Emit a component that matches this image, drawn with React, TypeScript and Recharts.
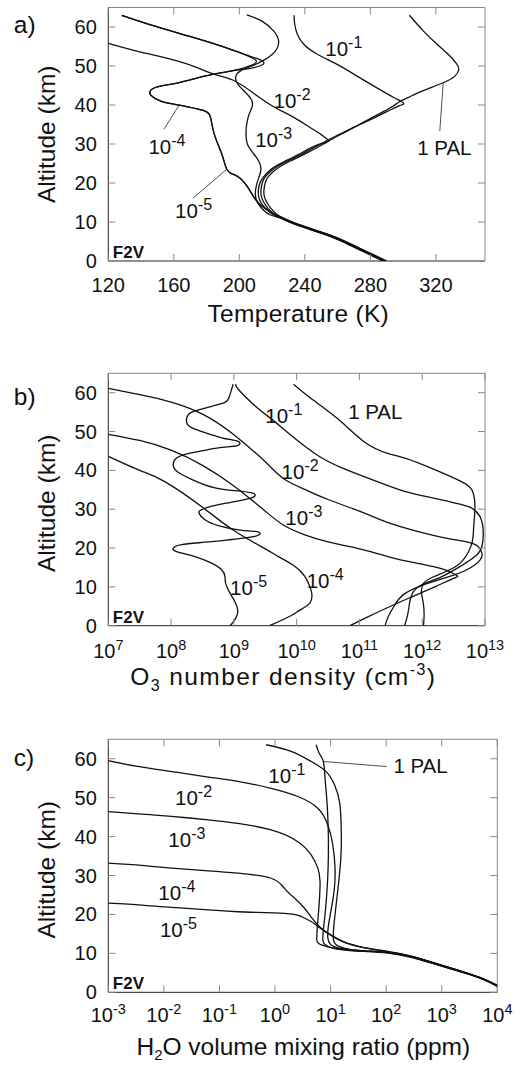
import React from 'react';
import { ScatterChart, Scatter, XAxis, YAxis, ReferenceDot } from 'recharts';

type P = [number, number];

// ---------------- Panel a: Temperature (K) vs altitude (km) ----------------
const tempTicks = [120, 160, 200, 240, 280, 320];
const altTicks = [0, 10, 20, 30, 40, 50, 60];

const tempPAL1: P[] = [
  [303.8, 63.0], [312.3, 59.0], [320.4, 55.7], [327.5, 53.0], [332.6, 50.6], [334.0, 49.1], [331.6, 47.4],
  [324.5, 45.7], [312.3, 43.7], [305, 42.3], [298, 40.9], [293.5, 39.6], [286.5, 38], [278.5, 36.2],
  [271.5, 34.6], [263.5, 32.8], [256, 31.1], [251.5, 30], [242.5, 28], [233, 26], [226, 24.5], [221, 23],
  [217.5, 21.5], [215.8, 20], [215, 18], [215.3, 16.5], [216.8, 15], [219.3, 13.5], [222.8, 12], [227, 11],
  [232.5, 10], [239, 9], [246, 8], [253, 7], [259.5, 6], [265, 5], [270, 4], [275, 3], [280, 2], [285, 1], [290, 0],
];
const temp101: P[] = [
  [233.4, 63], [233.8, 60.7], [235.5, 58.1], [239.5, 55.5], [247.6, 53], [259.7, 50.4], [271.9, 47.4],
  [284, 44.4], [294, 42], [299, 40.9], [300.5, 40.3], [297.5, 39.8], [290, 38.3], [284.8, 37.2], [276.8, 35.6],
  [269.8, 34.3], [261.8, 32.6], [254.3, 31.1], [249.8, 30], [240.7, 28], [231.2, 26], [224.2, 24.5], [219.2, 23],
  [215.7, 21.5], [214, 20], [213.2, 18], [213.5, 16.5], [215, 15], [217.5, 13.5], [221.5, 12], [226.5, 11],
  [232, 10], [238.5, 9], [245.5, 8], [252.5, 7], [259, 6], [264.5, 5], [269.5, 4], [274.5, 3], [279.5, 2], [284.5, 1], [289.5, 0],
];
const temp102: P[] = [
  [120, 55.8], [135, 54.1], [150, 52.6], [163, 51.2], [173, 49.8], [185.3, 47.8], [197.5, 46.1], [209.7, 42.7],
  [222, 39.3], [232.2, 37.1], [243, 34.3], [250, 32.4], [253.5, 31.3], [254.5, 30.8], [251, 30.3], [244.5, 29.2],
  [236, 27.3], [227.5, 25.5], [221, 24], [216.8, 22.5], [213.8, 21], [212.2, 19.5], [211.6, 18], [211.8, 16.5],
  [213.2, 15], [216, 13.5], [220.3, 12], [226, 11], [231.5, 10], [238, 9], [245, 8], [252, 7], [258.5, 6],
  [264, 5], [269, 4], [274, 3], [279, 2], [284, 1], [289, 0],
];
const temp103: P[] = [
  [204.6, 63.1], [213.8, 61.5], [220.9, 59], [224, 56.4], [222, 53.8], [215.8, 51.7], [207.7, 50], [200.5, 48.7],
  [197.9, 47.4], [198.5, 45.7], [202.6, 43.7], [206.7, 41.8], [208.1, 40.1], [206.7, 38.4], [205.3, 36.7],
  [204.3, 34.5], [204.1, 32.2], [205.1, 29.8], [208.7, 27.5], [212, 25.5], [213.2, 23.5], [212, 21.5],
  [210.5, 19.5], [209.8, 17.5], [210.2, 16], [211.8, 14.5], [214.8, 13], [219, 11.8], [225.5, 11], [231, 10],
  [237.5, 9], [244.5, 8], [251.5, 7], [258, 6], [263.5, 5], [268.5, 4], [273.5, 3], [278.5, 2], [283.5, 1], [288.5, 0],
];
const temp104: P[] = [
  [128.2, 63], [148.5, 60.2], [168.7, 57.7], [188.9, 55.1], [203.1, 53], [212.2, 51.7], [215, 50.9], [213.5, 50.2],
  [206, 49.3], [195, 48.7], [178.8, 47.4], [162.6, 45.7], [150.5, 44.7], [145.6, 43.6], [146.5, 42.3], [152, 41],
  [160, 40.2], [170, 39.4], [178, 38.6], [181.8, 37.5], [183.3, 35], [185.5, 31.5], [189.5, 27.2], [192.5, 23.4],
  [196.5, 22.2], [200.5, 21.2], [204.5, 19.3], [208.7, 16.5], [212.8, 14.4], [218, 12.8], [223.5, 11.4],
  [230.5, 10], [237, 9], [244, 8], [251, 7], [257.5, 6], [263, 5], [268, 4], [273, 3], [278, 2], [283, 1], [288, 0],
];
const temp105: P[] = [
  [128.2, 63], [148.5, 60.2], [168.7, 57.7], [188.9, 55.1], [203.1, 53], [209, 51.8], [210.5, 51.2], [208, 50.3],
  [200, 49.2], [192, 48.5], [178.8, 47.4], [162.6, 45.7], [150.5, 44.7], [145.6, 43.6], [146.5, 42.3], [152, 41],
  [160, 40.2], [170, 39.4], [178, 38.6], [181.8, 37.5], [183.3, 35], [185.5, 31.5], [189.5, 27.2], [192.5, 23.4],
  [196.5, 22.2], [200.5, 21.2], [204.5, 19.3], [208.7, 16.5], [212.8, 14.4], [218, 12.8], [223.5, 11.4],
  [230.3, 10], [236.8, 9], [243.8, 8], [250.8, 7], [257.3, 6], [262.8, 5], [267.8, 4], [272.8, 3], [277.8, 2], [282.8, 1], [287.8, 0],
];
const tempPtr104: P[] = [[154, 33.8], [163, 39.8]];
const tempPtr105: P[] = [[171.7, 16.1], [192, 23.4]];
const tempPtrPAL: P[] = [[322.4, 33.3], [324.5, 45.7]];

// ---------------- Panel b: O3 number density (log10 cm^-3) vs altitude ----------------
const o3TickExps = [7, 8, 9, 10, 11, 12, 13];
const o3PAL1Log: P[] = [
  [9.95, 62.2], [10.24, 58.4], [10.66, 53.2], [11.09, 47.2], [11.45, 44.4], [11.75, 43], [12.18, 40.3],
  [12.6, 37.3], [12.79, 35], [12.84, 30.7], [12.82, 25.5], [12.79, 21.2], [12.65, 16.9], [12.44, 14.4],
  [12.18, 12.6], [12.02, 10.9], [11.99, 8.4], [12.02, 5.5], [12.03, 2.5], [12.02, 0],
];
const o3101Log: P[] = [
  [9.04, 62.2], [9.07, 60.9], [9.34, 56.6], [9.6, 53.2], [9.92, 48.9], [10.35, 43.7], [10.77, 40.3],
  [11.19, 37.7], [11.72, 34.6], [12.2, 32.8], [12.6, 31.3], [12.8, 30.2], [12.92, 28.1], [12.97, 24.7],
  [12.95, 20.4], [12.84, 17.8], [12.6, 15.2], [12.28, 12.4], [12.0, 10.6], [11.85, 8.5], [11.8, 6], [11.77, 3], [11.72, 0],
];
const o3102Log: P[] = [
  [7, 61.1], [7.5, 59.5], [8, 57.6], [8.5, 54.5], [9, 49.2], [9.5, 42.2], [9.8, 37.8], [10.13, 35.1],
  [10.5, 32.5], [11, 29.5], [11.3, 27.5], [11.64, 25.6], [12.28, 22.9], [12.71, 21.6], [12.89, 20.4],
  [12.95, 18.7], [12.92, 16.9], [12.71, 14.4], [12.4, 12.5], [12.0, 10.4], [11.7, 8], [11.55, 5], [11.45, 2], [11.41, 0],
];
const o3103Log: P[] = [
  [7, 49.3], [7.5, 47.7], [8, 45.2], [8.5, 41.3], [9, 36], [9.5, 29.5], [9.8, 25.8], [10.13, 23.4],
  [10.5, 21.6], [11, 19.8], [11.3, 18.5], [11.64, 17], [12.18, 15.2], [12.44, 13.9], [12.56, 12.8],
  [12.5, 12.2], [12.2, 10], [11.8, 7.2], [11.4, 4.3], [11.1, 2], [10.85, 0],
];
const o3104Log: P[] = [
  [7, 43.6], [7.5, 40], [7.9, 37.1], [8.5, 30.5], [9, 24.5], [9.5, 19.8], [9.71, 17.8], [9.97, 15.3],
  [10.13, 12.7], [10.2, 10.5], [10.24, 8.4], [10.21, 5.8], [10.05, 4], [9.9, 2.5], [9.57, 0],
];
const o3105Log: P[] = [
  [8.99, 62.2], [8.964, 60.9], [8.922, 58.7], [8.858, 57.5], [8.646, 56.5], [8.381, 55.3], [8.264, 54.1],
  [8.248, 52.3], [8.327, 51.0], [8.54, 49.7], [8.805, 48.4], [9.044, 47.6], [9.097, 47.0], [9.044, 46.3],
  [8.805, 45.9], [8.487, 45.0], [8.221, 44.1], [8.062, 42.8], [8.036, 41.1], [8.089, 39.8], [8.327, 37.7],
  [8.699, 35.5], [9.07, 34.7], [9.283, 34.2], [9.336, 33.8], [9.283, 32.9], [8.964, 31.8], [8.646, 30.8],
  [8.487, 29.9], [8.444, 29.1], [8.54, 27.3], [8.752, 25.8], [9.07, 24.7], [9.336, 24.3], [9.415, 23.9],
  [9.336, 23.0], [8.964, 22.2], [8.54, 21.5], [8.168, 20.9], [8.036, 20.0], [8.089, 19.1], [8.381, 17.8],
  [8.646, 16.1], [8.805, 14.4], [8.858, 12.7], [8.869, 10.9], [8.938, 8.4], [9.028, 5.8], [9.06, 3.2],
  [8.991, 1.0], [8.938, 0],
];

// ---------------- Panel c: H2O mixing ratio (log10 ppm) vs altitude ----------------
const h2oTickExps = [-3, -2, -1, 0, 1, 2, 3, 4];
const h2oPAL1Log: P[] = [
  [0.74, 63.6], [0.8, 61.3], [0.87, 59.3], [0.9, 55], [0.93, 50], [0.95, 45], [0.96, 40], [0.96, 35],
  [0.95, 30], [0.93, 25], [0.9, 20], [0.87, 16], [0.86, 13.5], [0.9, 12.2], [1.05, 11.3], [1.3, 10.8],
  [1.6, 10.5], [2.03, 10.1], [2.45, 9], [2.93, 7], [3.4, 5], [3.76, 3.2], [4.0, 1.6],
];
const h2o101Log: P[] = [
  [-0.16, 63.6], [0.29, 61.9], [0.65, 59.3], [0.92, 56.7], [1.07, 53.3], [1.16, 49], [1.19, 43], [1.19, 36.2],
  [1.16, 30.2], [1.12, 25], [1.08, 20], [1.05, 15.5], [1.06, 13], [1.15, 11.8], [1.35, 11], [1.65, 10.6],
  [2.03, 10.2], [2.45, 9.1], [2.93, 7.1], [3.4, 5.1], [3.76, 3.3], [4.0, 1.7],
];
const h2o102Log: P[] = [
  [-3, 59.5], [-2.5, 58.1], [-1.86, 56.7], [-1.2, 55.3], [-0.67, 54.2], [-0.07, 52.4], [0.41, 50.3],
  [0.77, 47.3], [0.95, 43], [1.04, 37.9], [1.08, 32], [1.07, 27], [1.02, 22], [0.96, 17], [0.95, 14],
  [1.0, 12.3], [1.2, 11.2], [1.6, 10.6], [2.03, 10.3], [2.45, 9.2], [2.93, 7.2], [3.4, 5.2], [3.76, 3.4], [4.0, 1.8],
];
const h2o103Log: P[] = [
  [-3, 46.4], [-2.4, 45.8], [-1.86, 45.2], [-1.2, 44.3], [-0.67, 43.4], [-0.07, 41.7], [0.41, 38.7],
  [0.65, 35.3], [0.77, 31.9], [0.81, 28.5], [0.8, 24], [0.78, 20], [0.76, 16.5], [0.75, 13.8], [0.78, 12.6],
  [0.95, 11.7], [1.25, 11], [1.6, 10.6], [2.03, 10.2], [2.45, 9.1], [2.93, 7.1], [3.4, 5.1], [3.76, 3.3], [4.0, 1.6],
];
const h2o104Log: P[] = [
  [-3, 33.2], [-2.4, 32.6], [-1.86, 31.9], [-1.2, 31.2], [-0.67, 30.6], [-0.07, 29.3], [0.17, 26.7],
  [0.35, 24.2], [0.53, 21.6], [0.77, 17.3], [1.01, 14.7], [1.25, 12.9], [1.61, 11.5], [2.03, 10.5],
  [2.45, 9.3], [2.93, 7.3], [3.4, 5.2], [3.76, 3.4], [4.0, 1.7],
];
const h2o105Log: P[] = [
  [-3, 22.9], [-2.4, 22.4], [-1.86, 21.8], [-1.2, 21.2], [-0.67, 20.7], [0.17, 20.3], [0.47, 19.5],
  [0.65, 18.2], [0.77, 16.9], [1.01, 14.6], [1.25, 12.8], [1.61, 11.4], [2.03, 10.4], [2.45, 9.2],
  [2.93, 7.2], [3.4, 5.1], [3.76, 3.3], [4.0, 1.5],
];
const h2oPtrPALLog: P[] = [[0.87, 59.3], [2.01, 58.0]];

// ---------------- Curve labels: [x, alt, base, superscript] ----------------
type Tag = [number, number, string, string];
const tempTags: Tag[] = [
  [252.5, 52.5, '10', '-1'], [220.9, 39.2, '10', '-2'], [209.7, 29.3, '10', '-3'],
  [144.5, 27.5, '10', '-4'], [160.8, 11, '10', '-5'], [308.6, 27.2, '1 PAL', ''],
];
const o3TagsLog: Tag[] = [
  [9.5, 52.3, '10', '-1'], [9.76, 37.7, '10', '-2'], [9.82, 26.0, '10', '-3'],
  [10.16, 9.6, '10', '-4'], [8.94, 7.8, '10', '-5'], [10.82, 53.2, '1 PAL', ''],
];
const h2oTagsLog: Tag[] = [
  [-0.12, 53.8, '10', '-1'], [-1.8, 48.1, '10', '-2'], [-1.92, 37.4, '10', '-3'],
  [-2.1, 23.7, '10', '-4'], [-2.07, 14.3, '10', '-5'], [2.13, 56.3, '1 PAL', ''],
];

// ---------------- helpers ----------------
const FONT = '"Liberation Sans", Arial, Helvetica, sans-serif';
const toPts = (arr: P[]) => arr.map(([x, y]) => ({ x, y }));
const toLogPts = (arr: P[]) => arr.map(([e, y]) => ({ x: Math.pow(10, e), y }));
const NoDot = () => <g />;

const curve = (key: string, data: { x: number; y: number }[], w = 1.3) => (
  <Scatter
    key={key}
    data={data}
    shape={NoDot}
    line={{ stroke: '#111', strokeWidth: w, fill: 'none' }}
    lineJointType="natural"
    isAnimationActive={false}
    legendType="none"
  />
);
const pointer = (key: string, data: { x: number; y: number }[]) => (
  <Scatter
    key={key}
    data={data}
    shape={NoDot}
    line={{ stroke: '#222', strokeWidth: 0.8, fill: 'none' }}
    lineJointType="linear"
    isAnimationActive={false}
    legendType="none"
  />
);

const tag = (key: string, x: number, y: number, base: string, sup: string) => (
  <ReferenceDot
    key={key}
    x={x}
    y={y}
    r={1}
    fill="none"
    stroke="none"
    ifOverflow="visible"
    shape={(p: any) => (
      <text x={p.cx} y={p.cy} fontFamily={FONT} fontSize={20.5} fill="#111">
        {base}
        {sup ? <tspan dy={-8} fontSize={16}>{sup}</tspan> : null}
      </text>
    )}
  />
);

const powLabel = (v: number) => {
  const e = Math.round(Math.log10(v));
  return [
    <tspan key="b">10</tspan>,
    <tspan key="s" dy={-8} fontSize={14.5}>{String(e)}</tspan>,
  ];
};

const AXW = 40; // width reserved for left axis
const AXH = 30; // height reserved for bottom axis

const bottomTick = (fmt: (v: number) => React.ReactNode, dy: number) => (props: any) => {
  const { x, y, payload } = props;
  return (
    <g>
      <line x1={x} y1={y} x2={x} y2={y - 7} stroke="#888" strokeWidth={1} />
      <text x={x} y={y + dy} textAnchor="middle" fontFamily={FONT} fontSize={20} fill="#111">
        {fmt(payload.value)}
      </text>
    </g>
  );
};
const topTick = (props: any) => {
  const { x, y } = props;
  return <line x1={x} y1={y} x2={x} y2={y + 7} stroke="#888" strokeWidth={1} />;
};
const leftTick = (props: any) => {
  const { x, y, payload } = props;
  return (
    <g>
      <line x1={x} y1={y} x2={x + 7} y2={y} stroke="#888" strokeWidth={1} />
      <text x={x - 11.5} y={y + 7} textAnchor="end" fontFamily={FONT} fontSize={20} fill="#111">
        {payload.value}
      </text>
    </g>
  );
};
const rightTick = (props: any) => {
  const { x, y } = props;
  return <line x1={x} y1={y} x2={x - 7} y2={y} stroke="#888" strokeWidth={1} />;
};

type PanelProps = {
  top: number;
  height: number;
  plot: { top: number; right: number; bottom: number; left: number };
  xDomain: [number, number];
  xTicks: number[];
  log: boolean;
  tickFmt: (v: number) => React.ReactNode;
  tickDy: number;
  title: React.ReactNode;
  titleDx: number;
  titleDy: number;
  titleSpacing: number;
  letter: string;
  letterDy: number;
  yTitleDy: number;
  children: React.ReactNode[];
};

function Panel(p: PanelProps) {
  const scale = p.log ? 'log' : 'linear';
  const margin = {
    top: p.plot.top - 1,
    right: p.plot.right - 1,
    bottom: p.plot.bottom - AXH,
    left: p.plot.left - AXW,
  };
  return (
    <div style={{ position: 'absolute', left: 0, top: p.top, width: 524, height: p.height }}>
      <ScatterChart width={524} height={p.height} margin={margin}>
        <XAxis
          xAxisId={0}
          type="number"
          dataKey="x"
          scale={scale}
          domain={p.xDomain}
          ticks={p.xTicks}
          interval={0}
          allowDataOverflow
          height={AXH}
          tickSize={0}
          tickMargin={0}
          tickLine={false}
          axisLine={{ stroke: '#222', strokeWidth: 1 }}
          tick={bottomTick(p.tickFmt, p.tickDy)}
          label={(lp: any) => {
            const vb = lp.viewBox;
            return (
              <text
                x={vb.x + p.titleDx}
                y={vb.y + p.titleDy}
                textAnchor="middle"
                fontFamily={FONT}
                fontSize={24.5}
                letterSpacing={p.titleSpacing}
                fill="#111"
              >
                {p.title}
              </text>
            );
          }}
        />
        <XAxis
          xAxisId="top"
          orientation="top"
          type="number"
          dataKey="x"
          scale={scale}
          domain={p.xDomain}
          ticks={p.xTicks}
          interval={0}
          allowDataOverflow
          height={1}
          tickSize={0}
          tickMargin={0}
          tickLine={false}
          axisLine={{ stroke: '#888', strokeWidth: 1 }}
          tick={topTick}
        />
        <YAxis
          yAxisId={0}
          type="number"
          dataKey="y"
          domain={[0, 65]}
          ticks={altTicks}
          interval={0}
          allowDataOverflow
          width={AXW}
          tickSize={0}
          tickMargin={0}
          tickLine={false}
          axisLine={{ stroke: '#222', strokeWidth: 1 }}
          tick={leftTick}
          label={(lp: any) => {
            const vb = lp.viewBox;
            const pl = vb.x + vb.width;
            const cx = pl - 53.3;
            const cy = vb.y + vb.height / 2 + p.yTitleDy;
            return (
              <g>
                <text
                  x={cx}
                  y={cy}
                  transform={`rotate(-90 ${cx} ${cy})`}
                  textAnchor="middle"
                  fontFamily={FONT}
                  fontSize={24.5}
                  fill="#111"
                >
                  Altitude (km)
                </text>
                <text x={pl - 94.5} y={vb.y + p.letterDy} fontFamily={FONT} fontSize={24.5} fill="#111">
                  {p.letter}
                </text>
                <text x={pl + 4.5} y={vb.y + vb.height - 3} fontFamily={FONT} fontSize={17} fontWeight="bold" fill="#111">
                  F2V
                </text>
              </g>
            );
          }}
        />
        <YAxis
          yAxisId="right"
          orientation="right"
          type="number"
          dataKey="y"
          domain={[0, 65]}
          ticks={altTicks}
          interval={0}
          allowDataOverflow
          width={1}
          tickSize={0}
          tickMargin={0}
          tickLine={false}
          axisLine={{ stroke: '#888', strokeWidth: 1 }}
          tick={rightTick}
        />
        {p.children}
      </ScatterChart>
    </div>
  );
}

export default function App() {
  const o3Ticks = o3TickExps.map((e) => Math.pow(10, e));
  const h2oTicks = h2oTickExps.map((e) => Math.pow(10, e));
  return (
    <div style={{ position: 'absolute', left: 0, top: 0, width: 524, height: 1065, background: '#fff' }}>
      <Panel
        top={0}
        height={340}
        plot={{ top: 7.5, right: 39, bottom: 79, left: 108.3 }}
        xDomain={[120, 350]}
        xTicks={tempTicks}
        log={false}
        tickFmt={(v) => String(v)}
        tickDy={31}
        title="Temperature (K)"
        titleDx={190}
        titleDy={61}
        titleSpacing={0.3}
        letter="a)"
        letterDy={25.5}
        yTitleDy={0}
      >
        {[
          curve('pal', toPts(tempPAL1)),
          curve('m1', toPts(temp101)),
          curve('m2', toPts(temp102)),
          curve('m3', toPts(temp103)),
          curve('m4', toPts(temp104)),
          curve('m5', toPts(temp105)),
          pointer('p4', toPts(tempPtr104)),
          pointer('p5', toPts(tempPtr105)),
          pointer('pp', toPts(tempPtrPAL)),
          ...tempTags.map((t, i) => tag('t' + i, t[0], t[1], t[2], t[3])),
        ]}
      </Panel>
      <Panel
        top={340}
        height={360}
        plot={{ top: 33.3, right: 39, bottom: 74.3, left: 108.3 }}
        xDomain={[1e7, 1e13]}
        xTicks={o3Ticks}
        log
        tickFmt={powLabel}
        tickDy={32.5}
        title={[
          <tspan key="a">O</tspan>,
          <tspan key="b" dy={6} fontSize={16}>3</tspan>,
          <tspan key="c" dy={-6}> number density (cm</tspan>,
          <tspan key="d" dy={-10} fontSize={16}>-3</tspan>,
          <tspan key="e" dy={10}>)</tspan>,
        ]}
        titleDx={175}
        titleDy={59.5}
        titleSpacing={1.4}
        letter="b)"
        letterDy={31.7}
        yTitleDy={3.8}
      >
        {[
          curve('pal', toLogPts(o3PAL1Log)),
          curve('m1', toLogPts(o3101Log)),
          curve('m2', toLogPts(o3102Log)),
          curve('m3', toLogPts(o3103Log)),
          curve('m4', toLogPts(o3104Log)),
          curve('m5', toLogPts(o3105Log)),
          ...o3TagsLog.map((t, i) => tag('o' + i, Math.pow(10, t[0]), t[1], t[2], t[3])),
        ]}
      </Panel>
      <Panel
        top={700}
        height={365}
        plot={{ top: 39.3, right: 26.7, bottom: 72.7, left: 108.3 }}
        xDomain={[1e-3, 1e4]}
        xTicks={h2oTicks}
        log
        tickFmt={powLabel}
        tickDy={30}
        title={[
          <tspan key="a">H</tspan>,
          <tspan key="b" dy={5} fontSize={15}>2</tspan>,
          <tspan key="c" dy={-5}>O volume mixing ratio (ppm)</tspan>,
        ]}
        titleDx={195}
        titleDy={62.5}
        titleSpacing={0}
        letter="c)"
        letterDy={26.7}
        yTitleDy={4}
      >
        {[
          curve('pal', toLogPts(h2oPAL1Log)),
          curve('m1', toLogPts(h2o101Log)),
          curve('m2', toLogPts(h2o102Log)),
          curve('m3', toLogPts(h2o103Log)),
          curve('m4', toLogPts(h2o104Log)),
          curve('m5', toLogPts(h2o105Log)),
          pointer('pp', toLogPts(h2oPtrPALLog)),
          ...h2oTagsLog.map((t, i) => tag('h' + i, Math.pow(10, t[0]), t[1], t[2], t[3])),
        ]}
      </Panel>
    </div>
  );
}
